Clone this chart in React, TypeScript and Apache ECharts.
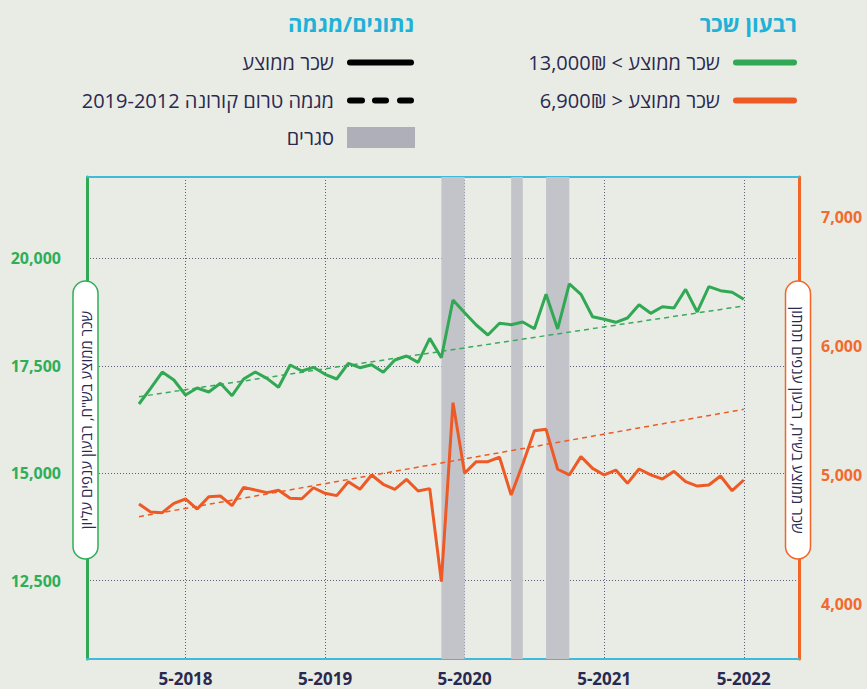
import { useEffect, useRef } from "react";
import * as echarts from "echarts";

// Months (x categories), Jan 2018 .. May 2022
const months = [
  "2018-01","2018-02","2018-03","2018-04","2018-05","2018-06","2018-07","2018-08","2018-09","2018-10","2018-11","2018-12",
  "2019-01","2019-02","2019-03","2019-04","2019-05","2019-06","2019-07","2019-08","2019-09","2019-10","2019-11","2019-12",
  "2020-01","2020-02","2020-03","2020-04","2020-05","2020-06","2020-07","2020-08","2020-09","2020-10","2020-11","2020-12",
  "2021-01","2021-02","2021-03","2021-04","2021-05","2021-06","2021-07","2021-08","2021-09","2021-10","2021-11","2021-12",
  "2022-01","2022-02","2022-03","2022-04","2022-05",
];

// Top quartile sectors (left axis, NIS)
const topQuartile = [
  16611, 16976, 17356, 17170, 16820, 16984, 16890, 17093, 16804, 17193, 17356, 17209,
  17000, 17519, 17379, 17465, 17302, 17193, 17558, 17457, 17527, 17349, 17636, 17729,
  17582, 18140, 17690, 19033, 18738, 18451, 18218, 18491, 18458, 18521, 18365, 19166,
  18358, 19406, 19166, 18644, 18584, 18514, 18614, 18924, 18723, 18877, 18847, 19282,
  18754, 19343, 19250, 19213, 19050,
];

// Bottom quartile sectors (right axis, NIS)
const bottomQuartile = [
  4778, 4716, 4711, 4783, 4817, 4739, 4835, 4840, 4765, 4907, 4886, 4866,
  4884, 4822, 4819, 4904, 4861, 4843, 4951, 4892, 5003, 4931, 4892, 4969,
  4879, 4897, 4177, 5563, 5016, 5106, 5106, 5140, 4848, 5088, 5346, 5356,
  5047, 5003, 5145, 5054, 5003, 5041, 4938, 5049, 5003, 4972, 5031, 4951,
  4917, 4925, 4995, 4881, 4964,
];

// Pre-COVID trend (2012-2019) endpoints
const trendMonths = ["2018-01", "2022-05"];
const topTrend = [16781, 18894];
const bottomTrend = [4680, 5511];

// Lockdowns
const lockdowns: [string, string][] = [
  ["2020-03", "2020-05"],
  ["2020-09", "2020-10"],
  ["2020-12", "2021-02"],
];

const xTickLabels = ["5-2018", "5-2019", "5-2020", "5-2021", "5-2022"];

const GREEN = "#31a853";
const ORANGE = "#ee5a26";
const NAVY = "#2a2950";
const CYAN = "#20b1d7";
const BG = "#e9ece5";
const FONT = '"Open Sans", "Liberation Sans", sans-serif';

const idx = (m: string) => {
  const [y, mo] = m.split("-").map(Number);
  return (y - 2018) * 12 + (mo - 5);
};

export default function App() {
  const ref = useRef<HTMLDivElement>(null);

  useEffect(() => {
    if (!ref.current) return;
    const chart = echarts.init(ref.current, undefined, { renderer: "svg" });

    const dotted = { color: "#5d5d7e", width: 1, type: [1, 2] as any };

    const pill = (cx: number, cy: number, rot: number, stroke: string, text: string) => ({
      type: "group",
      x: cx,
      y: cy,
      rotation: rot,
      z: 100,
      children: [
        {
          type: "rect",
          z: 100,
          shape: { x: -139, y: -12.5, width: 278, height: 25, r: 12.5 },
          style: { fill: "#ffffff", stroke, lineWidth: 1.5 },
        },
        {
          type: "text",
          z: 101,
          x: 0,
          y: 0,
          style: {
            text,
            fill: NAVY,
            font: `15px ${FONT}`,
            align: "center",
            verticalAlign: "middle",
            textAlign: "center",
            textVerticalAlign: "middle",
          },
        },
      ],
    });

    const legendText = (x: number, y: number, text: string, size = 20, bold = false, color = NAVY) => ({
      type: "text",
      z: 100,
      x,
      y,
      style: {
        text,
        fill: color,
        font: `${bold ? "bold " : ""}${size}px ${FONT}`,
        align: "right",
        verticalAlign: "middle",
        textAlign: "right",
        textVerticalAlign: "middle",
      },
    });

    const legendLine = (x1: number, x2: number, y: number, color: string) => ({
      type: "line",
      z: 100,
      shape: { x1, y1: y, x2, y2: y },
      style: { stroke: color, lineWidth: 6, lineCap: "round" },
    });

    chart.setOption({
      animation: false,
      backgroundColor: BG,
      grid: {
        left: 87,
        right: 68,
        top: 177,
        bottom: 30,
        containLabel: false,
        outerBoundsMode: "none",
      } as any,
      xAxis: [
        {
          type: "value",
          min: -8.47,
          max: 52.75,
          minInterval: 12,
          maxInterval: 12,
          position: "bottom",
          axisLine: { show: true, onZero: false, lineStyle: { color: "#3fbad8", width: 2 } },
          axisTick: { show: false },
          splitLine: { show: true, showMinLine: false, showMaxLine: false, lineStyle: dotted },
          axisLabel: {
            margin: 11,
            color: NAVY,
            fontSize: 17,
            fontWeight: "bold",
            fontFamily: FONT,
            showMinLabel: false,
            showMaxLabel: false,
            formatter: (v: number) => {
              if (Math.abs(v % 12) > 1e-6) return "";
              const k = Math.round(v / 12);
              return xTickLabels[k] ?? "";
            },
          },
        },
        {
          type: "value",
          min: -8.47,
          max: 52.75,
          position: "top",
          axisLine: { show: true, onZero: false, lineStyle: { color: "#3fbad8", width: 2 } },
          axisTick: { show: false },
          axisLabel: { show: false },
          splitLine: { show: false },
        },
      ],
      yAxis: [
        {
          type: "value",
          position: "left",
          min: 10672,
          max: 21898,
          minInterval: 2500,
          maxInterval: 2500,
          axisLine: { show: true, onZero: false, lineStyle: { color: GREEN, width: 3 } },
          axisTick: { show: false },
          splitLine: { show: true, showMinLine: false, showMaxLine: false, lineStyle: dotted },
          axisLabel: {
            margin: 26,
            color: "#2fae5a",
            fontSize: 16,
            fontWeight: "bold",
            fontFamily: FONT,
            showMinLabel: false,
            showMaxLabel: false,
            formatter: (v: number) => (v % 2500 === 0 ? v.toLocaleString("en-US") : ""),
          },
        },
        {
          type: "value",
          position: "right",
          min: 3578,
          max: 7310,
          minInterval: 1000,
          maxInterval: 1000,
          axisLine: { show: true, onZero: false, lineStyle: { color: "#f26526", width: 3 } },
          axisTick: { show: false },
          splitLine: { show: false },
          axisLabel: {
            margin: 22,
            color: "#f26a2d",
            fontSize: 16,
            fontWeight: "bold",
            fontFamily: FONT,
            showMinLabel: false,
            showMaxLabel: false,
            formatter: (v: number) => (v % 1000 === 0 ? v.toLocaleString("en-US") : ""),
          },
        },
      ],
      series: [
        {
          type: "line",
          name: "lockdowns",
          xAxisIndex: 0,
          yAxisIndex: 0,
          data: [],
          z: 1,
          silent: true,
          markArea: {
            silent: true,
            itemStyle: { color: "#c2c4ca" },
            data: lockdowns.map(([a, b]) => [{ xAxis: idx(a) }, { xAxis: idx(b) }]),
          },
        },
        {
          type: "line",
          name: "topTrend",
          xAxisIndex: 0,
          yAxisIndex: 0,
          z: 3,
          symbol: "none",
          lineStyle: { color: "#3aab5c", width: 1.5, type: [5, 4] as any },
          data: trendMonths.map((m, i) => [idx(m), topTrend[i]]),
        },
        {
          type: "line",
          name: "bottomTrend",
          xAxisIndex: 0,
          yAxisIndex: 1,
          z: 3,
          symbol: "none",
          lineStyle: { color: ORANGE, width: 1.5, type: [5, 4] as any },
          data: trendMonths.map((m, i) => [idx(m), bottomTrend[i]]),
        },
        {
          type: "line",
          name: "top",
          xAxisIndex: 0,
          yAxisIndex: 0,
          z: 4,
          symbol: "none",
          lineStyle: { color: GREEN, width: 3 },
          data: months.map((m, i) => [idx(m), topQuartile[i]]),
        },
        {
          type: "line",
          name: "bottom",
          xAxisIndex: 0,
          yAxisIndex: 1,
          z: 4,
          symbol: "none",
          lineStyle: { color: ORANGE, width: 3 },
          data: months.map((m, i) => [idx(m), bottomQuartile[i]]),
        },
      ],
      graphic: [
        legendText(797, 23, "רבעון שכר", 22, true, CYAN),
        legendText(414, 23, "נתונים/מגמה", 22, true, CYAN),
        legendLine(736, 794, 62.5, GREEN),
        legendText(720, 62.5, "13,000₪ < שכר ממוצע"),
        legendLine(736, 794, 100.5, ORANGE),
        legendText(720, 100.5, "6,900₪ > שכר ממוצע"),
        legendLine(350, 411, 62.5, "#000000"),
        legendText(334, 62.5, "שכר ממוצע"),
        legendLine(350, 362, 100.5, "#000000"),
        legendLine(375, 386, 100.5, "#000000"),
        legendLine(400, 411, 100.5, "#000000"),
        legendText(334, 100.5, "2019-2012 מגמה טרום קורונה"),
        {
          type: "rect",
          z: 100,
          shape: { x: 347, y: 127, width: 68, height: 21 },
          style: { fill: "#aeafb8" },
        },
        legendText(334, 137.5, "סגרים"),
        pill(85.5, 420, Math.PI / 2, "#2fae5a", 'שכר ממוצע בש"ח, רבעון ענפים עליון'),
        pill(798, 420, -Math.PI / 2, "#f26526", 'שכר ממוצע בש"ח, רבעון ענפים תחתון'),
      ],
    });

    return () => chart.dispose();
  }, []);

  return (
    <div
      ref={ref}
      style={{ position: "fixed", left: 0, top: 0, width: 867, height: 689, background: BG }}
    />
  );
}
